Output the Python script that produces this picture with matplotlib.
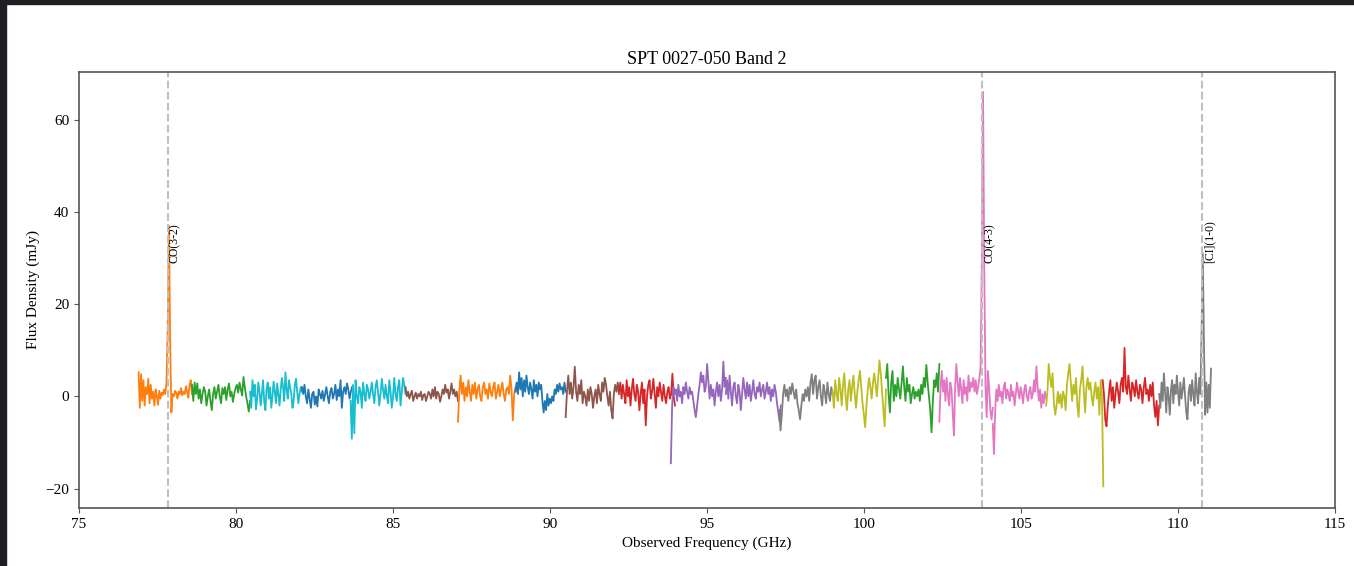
import numpy as np
import matplotlib
matplotlib.use("Agg")
import matplotlib.pyplot as plt
from matplotlib.patches import Rectangle

plt.rcParams['font.family'] = 'serif'
plt.rcParams['font.serif'] = ['Liberation Serif', 'DejaVu Serif']
plt.rcParams['mathtext.fontset'] = 'stix'

# spectral windows: (start GHz, end GHz)
win_edges = [
    (76.90, 78.60), (78.60, 80.45), (80.45, 82.10), (82.10, 83.70),
    (83.65, 85.40), (85.40, 87.07), (87.07, 88.90), (88.90, 90.50),
    (90.50, 92.20), (92.20, 93.98), (93.85, 95.60), (95.60, 97.35),
    (97.30, 99.00), (99.00, 100.70), (100.70, 102.40), (102.40, 104.10),
    (104.10, 105.80), (105.80, 107.62), (107.60, 109.40), (109.40, 111.05),
]
win_colors = ['C1', 'C2', 'C9', 'C0', 'C9', 'C5', 'C1', 'C0', 'C5', 'C3',
              'C4', 'C4', 'C7', 'C8', 'C2', 'C6', 'C6', 'C8', 'C3', 'C7']

flux_w01 = [5.2, -2.5, 4.8, -1.0, 3.5, -2.0, 2.0, 0.5, 3.8, -1.5, 2.5, -0.5, 1.0, -2.0, 1.5,
            0.0, -1.8, 1.2, -0.5, 0.8, 0.3, 1.5, 0.5, 3.0, 15.0, 37.0, 12.0, -3.5, 0.5, 0.0,
            1.2, 0.8, -0.5, 1.0, 0.5, 1.8, 0.2, 1.0, 0.5, 2.2, 1.0, -0.3, 2.5, 3.5, 0.5]
flux_w02 = [2.5, -1.0, 3.0, 0.5, 2.8, -0.5, 1.5, -1.5, 0.5, 2.0, 1.0, -2.0, 0.0, 1.5, -1.0,
            -3.0, 0.5, 2.0, -0.5, 1.0, 2.5, 0.0, -1.5, 1.8, 0.5, 2.0, -0.8, 1.5, 2.8, 0.0,
            1.0, -1.2, 0.5, 1.8, 2.5, 0.8, 3.0, 1.5, 0.2, 4.2, 2.0, 0.0, -1.5, -3.3, -1.0]
flux_w03 = [1.0, -2.5, 3.5, 0.0, 2.5, -2.8, -0.5, 3.0, 1.0, -2.0, 0.5, 3.5, -1.0, -3.0, 1.5,
            3.0, -0.5, 2.0, -2.5, 0.0, 3.2, 1.0, -1.5, 2.8, 0.5, -2.0, 1.5, 4.0, 2.0, -1.0,
            5.2, 1.5, -0.5, 3.5, 2.0, 0.5, -2.5, -1.0, 2.5, 3.8, 1.0, -1.5, 0.5, 2.0, 1.0]
flux_w04 = [2.0, 0.5, 2.5, 0.0, -1.5, 1.5, -0.5, -2.5, 0.5, 1.0, -1.8, 0.0, -2.2, 1.5, 0.5,
            -0.5, 1.2, -1.0, 0.5, 2.0, 0.0, -1.5, 1.0, 1.8, -0.5, 0.5, 2.5, -0.8, 1.5, 0.0,
            3.5, -2.5, 1.0, 2.0, 0.5, 2.8, 1.5, -0.5, 1.0, 2.0]
flux_w05 = [-1.0, -9.2, 2.5, -8.0, 3.5, 0.0, -1.5, 2.0, 1.0, -2.5, 3.0, 0.5, -1.0, 2.5, 1.5,
            -0.5, 1.0, 3.0, 0.5, -1.5, 2.0, 3.5, 1.0, -2.0, 0.5, 3.8, 1.5, -0.5, 2.5, 0.0,
            -1.5, 3.5, 1.0, -2.5, 0.0, 4.0, 0.5, -1.0, 2.0, 3.5, -2.0, 1.0, 4.0, 2.5, 0.5]
flux_w06 = [2.0, 0.0, 1.0, -0.5, 0.5, 1.2, -1.0, 0.0, 0.8, -0.5, 0.5, 0.0, 1.0, -0.8, 0.3,
            0.5, -1.0, 0.0, 1.0, 0.5, -0.5, 1.5, 0.0, 2.0, -0.5, 1.0, 0.5, -1.2, 0.0, 1.5,
            0.5, 2.5, 0.8, 1.5, -0.5, 1.0, 2.8, 0.5, 1.5, 0.0, 1.0, -1.0]
flux_w07 = [-5.5, 1.0, 4.5, 0.5, 3.0, -1.0, 2.0, 0.0, 3.5, 1.0, -1.0, 2.5, 0.5, 3.0, -0.5,
            1.5, 2.5, 0.0, -1.0, 2.0, 3.0, 0.5, 1.5, -0.5, 2.8, 1.0, 0.0, 2.0, 3.0, -0.5,
            1.0, 2.5, 0.0, 1.5, 3.0, 0.5, -1.0, 1.5, 2.0, 0.5, 4.5, 1.5, -5.2, 0.5, 2.0]
flux_w08 = [1.0, 3.0, 0.5, 5.2, 1.5, 4.0, 0.0, 3.5, 1.0, 4.5, 2.0, 0.5, 3.0, 1.5, -0.5,
            3.5, 1.0, 2.5, 0.0, 3.0, 1.5, 2.5, -1.0, -3.5, -1.0, -3.0, 0.5, -2.0, -0.5, -1.5,
            0.0, -1.0, 1.5, 0.5, 2.5, 1.0, 2.8, 1.5, 2.0, 0.5, 3.0, 1.0]
flux_w09 = [-4.5, 1.0, 4.5, 0.5, 3.0, -0.5, 2.0, 6.4, 1.0, -1.0, 2.5, 0.5, 3.5, -1.5, 1.0,
            0.0, -2.0, 1.5, -1.0, 2.0, 0.5, -2.5, 0.0, 1.5, -1.5, 2.5, 0.5, -1.0, 3.0, 1.0,
            4.0, 2.5, 0.0, -2.0, 1.0, -3.0, -4.8, 0.5, 2.5, 1.0, 3.0, 0.5]
flux_w10 = [1.0, 3.0, -0.5, 2.5, 0.5, -1.5, 3.5, 0.0, 2.0, -2.0, 1.5, 3.8, 0.5, -1.0, 2.5,
            1.0, -3.0, 0.5, 3.0, -1.5, 1.5, -6.3, 0.0, 2.5, 3.5, -0.5, 1.0, 3.8, 0.5, -2.5,
            2.0, 0.0, 3.0, 1.0, -1.0, 2.5, 0.0, -1.5, 1.0, 2.0, -0.5, 0.5, 4.9, 0.0, -2.0]
flux_w11 = [-14.5, -2.0, 2.0, 0.5, 1.5, -1.0, 2.5, 0.0, 1.0, -1.5, 2.0, 0.5, 3.0, 1.0, -0.5,
            2.0, 0.5, 1.0, -1.0, -3.0, -4.5, -2.0, 0.5, 2.5, 5.2, 3.0, 4.5, 1.0, 2.0, 7.0,
            3.5, -0.5, 2.5, 0.0, 1.5, -2.0, 1.0, 3.0, 0.0, 2.5, -1.0, 1.5, 7.5, 2.0, 4.0]
flux_w12 = [0.5, 3.5, -0.5, 4.5, 1.0, -2.0, 2.0, 3.0, 0.0, -1.5, 2.5, 1.0, -3.0, 0.5, 4.0,
            1.5, -0.5, 3.0, 0.0, 2.5, -1.0, 1.0, 3.5, 0.5, -0.5, 2.0, 1.0, 3.0, 0.0, 1.5,
            2.5, -0.5, 1.0, 3.0, 0.5, 2.0, -1.0, 1.5, 0.0, 2.5, 1.0, -1.5, -3.5, -5.5, -2.0]
flux_w13 = [-3.0, -7.4, -4.0, 0.5, 2.5, 0.0, 1.5, -1.0, 2.0, 0.5, 2.8, 1.0, -0.5, 1.5, -1.5,
            -3.0, -5.0, -2.0, 0.5, -1.0, 1.5, 0.0, 2.0, -1.0, 3.0, 4.8, 0.5, 3.5, 4.5, -0.5,
            2.0, 3.5, 0.0, -2.0, 2.5, 1.0, -1.5, 3.0, 0.5, -1.0, 2.0, 0.5]
flux_w14 = [1.0, -2.5, 3.5, 0.5, -1.0, 4.0, 1.5, -2.0, 2.5, 5.0, 0.0, -3.0, 1.5, 3.5, -1.0,
            2.0, 4.5, 0.5, -2.5, 1.0, 3.5, 5.5, 2.0, -1.5, -4.0, -6.7, -2.0, 1.5, 4.0, 2.0,
            -0.5, 3.0, 5.0, 2.5, 0.0, 4.0, 7.8, 5.0, 1.0, -3.0, -6.5, 1.5]
flux_w15 = [4.0, 7.0, 0.5, -3.5, 3.0, 5.5, -1.0, 2.5, 0.0, 4.0, 1.5, -0.5, 3.0, 6.5, 2.0,
            -1.0, 4.0, 1.0, 2.5, -1.5, 0.5, 2.0, -0.5, 1.0, 0.0, 1.5, -1.0, 2.5, 0.5, 4.0,
            2.0, 6.8, 3.0, 0.0, -3.0, -7.8, -1.0, 3.5, 2.0, 5.0, 1.0, 7.0]
flux_w16 = [-5.5, 2.0, 5.5, 1.0, 3.5, -1.0, 4.0, 0.5, -2.0, 3.0, 1.5, -3.5, -8.5, 2.0, 7.0,
            3.0, 0.0, 4.0, 1.5, -1.5, 3.5, 0.5, 2.0, -1.0, 4.5, 1.0, 3.0, 2.0, 4.0, 1.0,
            3.5, 0.5, 2.0, 4.0, 6.5, 30.0, 66.0, 28.0, 2.0, -4.5, 5.5, 2.0, -3.0, -5.0, -2.5]
flux_w17 = [-6.0, -12.5, -3.0, 1.5, -1.0, 2.5, 0.0, 1.0, -1.5, 2.0, 3.0, -0.5, 1.5, 0.5, -1.0,
            2.5, 0.0, 1.0, -2.0, 0.5, 3.0, 1.0, -0.5, 2.0, 0.5, -1.5, 1.5, 2.5, 0.0, -1.0,
            1.0, 2.0, -0.5, 0.5, 3.5, 1.0, 6.5, 2.0, -1.0, 1.5, -2.5, 0.5, -1.5, 1.0, -0.5]
flux_w18 = [-2.0, 1.0, 7.0, 4.0, 2.0, 5.0, -1.5, -4.0, -2.0, 1.0, -1.5, 0.5, -2.5, 1.0, 0.0,
            -3.0, 2.5, 5.0, 7.0, 3.0, -1.0, 2.5, 0.5, 4.0, -2.0, -4.5, 1.5, 3.5, 6.5, 1.0,
            -3.5, 2.0, 4.0, 1.5, 3.0, 0.0, -2.0, 1.0, 3.0, -0.5, 2.0, -4.0, 3.5, 0.0, -19.5]
flux_w19 = [3.5, 0.5, -5.0, -6.5, -2.0, 1.0, 3.5, -1.0, 2.0, -2.5, 0.5, 3.0, 1.0, -1.5, 2.5,
            4.0, 1.0, 10.5, 2.0, 0.5, 4.5, 1.5, -1.0, 3.0, 2.0, 0.0, 3.5, 1.0, -0.5, 2.5,
            1.5, -1.5, 2.0, 4.0, 0.5, 1.5, -1.0, 2.5, 0.0, 3.0, -2.0, -4.5, -1.0, -6.3, -2.0]
flux_w20 = [0.5, -2.5, 3.0, -1.0, 5.0, 1.0, -3.5, 2.0, 0.0, -4.0, 1.5, 3.5, -1.5, 2.5, 0.5,
            4.5, 1.0, -2.0, 3.0, -0.5, 1.5, 4.0, 0.0, -3.5, -5.0, 1.0, 2.5, -1.0, 3.5, 0.5,
            -2.0, 5.0, 1.0, -1.5, 4.0, 0.5, 14.0, 31.0, 12.0, -4.0, 3.0, -3.5, 2.5, -2.5, 6.0]

all_flux = [flux_w01, flux_w02, flux_w03, flux_w04, flux_w05, flux_w06, flux_w07,
            flux_w08, flux_w09, flux_w10, flux_w11, flux_w12, flux_w13, flux_w14,
            flux_w15, flux_w16, flux_w17, flux_w18, flux_w19, flux_w20]

# emission lines, rest frequencies (GHz) and source redshift
line_names = ['CO(3-2)', 'CO(4-3)', '[CI](1-0)']
line_rest = [345.796, 461.041, 492.161]
z_source = 3.443


def plot_spectrum():
    fig = plt.figure(figsize=(13.54, 5.66), dpi=100)
    ax = fig.add_axes([0.0583, 0.1025, 0.9277, 0.7703])

    for (f0, f1), col, flux in zip(win_edges, win_colors, all_flux):
        freq = np.linspace(f0, f1, len(flux))
        ax.plot(freq, flux, color=col, lw=1.3)

    for name, rest in zip(line_names, line_rest):
        obs = rest / (1 + z_source)
        ax.axvline(obs, color='#c0c0c0', ls='--', lw=1.5)
        ax.text(obs + 0.04, 29.0, name, rotation=90, va='bottom', ha='left', fontsize=8.5)

    ax.set_xlim(75, 115)
    ax.set_ylim(-24.2, 70.3)
    ax.set_xticks([75, 80, 85, 90, 95, 100, 105, 110, 115])
    ax.set_yticks([-20, 0, 20, 40, 60])
    ax.tick_params(labelsize=11, color='#555555')
    for sp in ax.spines.values():
        sp.set_color('#555555')
        sp.set_linewidth(1.2)

    ax.set_title('SPT 0027-050 Band 2', fontsize=13)
    ax.set_xlabel('Observed Frequency (GHz)', fontsize=11)
    ax.set_ylabel('Flux Density (mJy)', fontsize=11)

    # dark screenshot edge along top and left
    fig.patches.append(Rectangle((0, 1 - 4 / 566), 1, 4 / 566, transform=fig.transFigure,
                                 color='#1e1f22', zorder=10))
    fig.patches.append(Rectangle((0, 0), 6 / 1354, 1, transform=fig.transFigure,
                                 color='#1e1f22', zorder=10))

    fig.savefig('out.png', dpi=100)


if __name__ == "__main__":
    plot_spectrum()
